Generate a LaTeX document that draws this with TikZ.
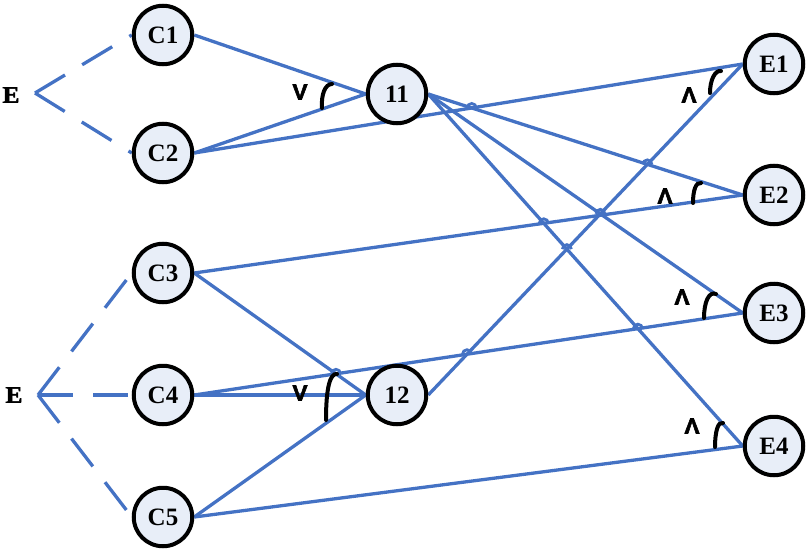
\documentclass[tikz,border=0pt]{standalone}
\usepackage{fontspec}
\setmainfont{Liberation Serif}
\newfontfamily\mysansfam[BoldFeatures={FakeBold=2.5}]{Liberation Sans}
\newfontfamily\myheavyserif[BoldFeatures={FakeBold=2}]{Liberation Serif}
\usetikzlibrary{backgrounds,intersections}
\definecolor{lineblue}{HTML}{4472C4}
\definecolor{nodefill}{HTML}{E8EEF8}
\newcommand{\oplabel}[1]{\resizebox{15pt}{15pt}{\mysansfam\bfseries #1}}
\newcommand{\elabtext}[1]{\resizebox{17pt}{15.5pt}{\myheavyserif\bfseries #1}}
\begin{document}
\begin{tikzpicture}[x=1pt,y=-1pt,
  cnode/.style={circle,draw=black,line width=4pt,fill=nodefill,minimum size=58.5pt,inner sep=0pt,font=\fontsize{25}{25}\selectfont\bfseries},
  link/.style={draw=lineblue,line width=3.3pt},
  dashlink/.style={draw=lineblue,line width=3.3pt,dash pattern=on 35pt off 20pt},
  anglemark/.style={draw=black,line width=4pt,line cap=round},
  opl/.style={inner sep=0pt},
  elabel/.style={inner sep=0pt},
  hop/.style={draw=lineblue,line width=2.8pt}]
\useasboundingbox (0,0) rectangle (812,554);
% nodes
\node[cnode] (C1) at (163,35) {C1};
\node[cnode] (C2) at (163,153) {C2};
\node[cnode] (C3) at (163,273) {C3};
\node[cnode] (C4) at (163,395) {C4};
\node[cnode] (C5) at (163,517) {C5};
\node[cnode] (n11) at (397,94) {11};
\node[cnode] (n12) at (397,395) {12};
\node[cnode] (E1) at (774,64) {E1};
\node[cnode] (E2) at (774,195) {E2};
\node[cnode] (E3) at (774,313) {E3};
\node[cnode] (E4) at (774,446) {E4};
\node[elabel] (Ea) at (11,95) {\elabtext{E}};
\node[elabel] (Eb) at (14,395) {\elabtext{E}};
\coordinate (va) at (35,93);
\coordinate (vb) at (38,395);
% connectors behind the nodes
\begin{scope}[on background layer]
\draw[dashlink] (va) -- (C1.west);
\draw[dashlink] (va) -- (C2.west);
\draw[dashlink] (vb) -- (C3.west);
\draw[dashlink] (vb) -- (C4.west);
\draw[dashlink] (vb) -- (C5.west);
\draw[link] (C1.east) -- (n11.west);
\draw[link] (C2.east) -- (n11.west);
\draw[link,name path global=c2e1] (C2.east) -- (E1.west);
\draw[link,name path global=c3e2] (C3.east) -- (E2.west);
\draw[link,name path global=c3n12] (C3.east) -- (n12.west);
\draw[link] (C4.east) -- (n12.west);
\draw[link,name path global=c4e3] (C4.east) -- (E3.west);
\draw[link] (C5.east) -- (n12.west);
\draw[link] (C5.east) -- (E4.west);
\draw[link,name path global=ae2] (n11.east) -- (E2.west);
\draw[link,name path global=ae3] (n11.east) -- (E3.west);
\draw[link,name path global=ae4] (n11.east) -- (E4.west);
\draw[link,name path global=be1] (n12.east) -- (E1.west);
\end{scope}
% line hops at crossings
\path[name intersections={of=c2e1 and ae2}] (intersection-1) coordinate (h1);
\path[name intersections={of=ae2 and be1}] (intersection-1) coordinate (h2);
\path[name intersections={of=be1 and ae3}] (intersection-1) coordinate (h3);
\path[name intersections={of=c3e2 and ae4}] (intersection-1) coordinate (h4);
\path[name intersections={of=be1 and ae4}] (intersection-1) coordinate (h5);
\path[name intersections={of=c4e3 and be1}] (intersection-1) coordinate (h6);
\path[name intersections={of=c4e3 and ae4}] (intersection-1) coordinate (h7);
\path[name intersections={of=c3n12 and c4e3}] (intersection-1) coordinate (h8);
\foreach \h in {h1,h2,h3,h4,h5,h6,h7,h8}
  \draw[hop] ([xshift=-4.5pt]\h) arc[start angle=180,end angle=0,radius=4.5pt];
% angle marks
\draw[anglemark] (332,84) .. controls (325,84) and (321,95) .. (322,108);
\draw[anglemark] (337,374) .. controls (330,373) and (326,388) .. (326,420);
\draw[anglemark] (721,71) .. controls (715,70) and (710,80) .. (710,93);
\draw[anglemark] (701,183) .. controls (696,182) and (693,190) .. (693,203);
\draw[anglemark] (716,294) .. controls (709,291) and (704,302) .. (704,318);
\draw[anglemark] (723,423) .. controls (718,421) and (715,432) .. (715,447);
\node[opl] (or1) at (300,92) {\oplabel{V}};
\node[opl] (or2) at (300,393) {\oplabel{V}};
\node[opl] (and1) at (689,95) {\oplabel{Λ}};
\node[opl] (and2) at (665,196) {\oplabel{Λ}};
\node[opl] (and3) at (682,297) {\oplabel{Λ}};
\node[opl] (and4) at (692,426) {\oplabel{Λ}};
\end{tikzpicture}
\end{document}
